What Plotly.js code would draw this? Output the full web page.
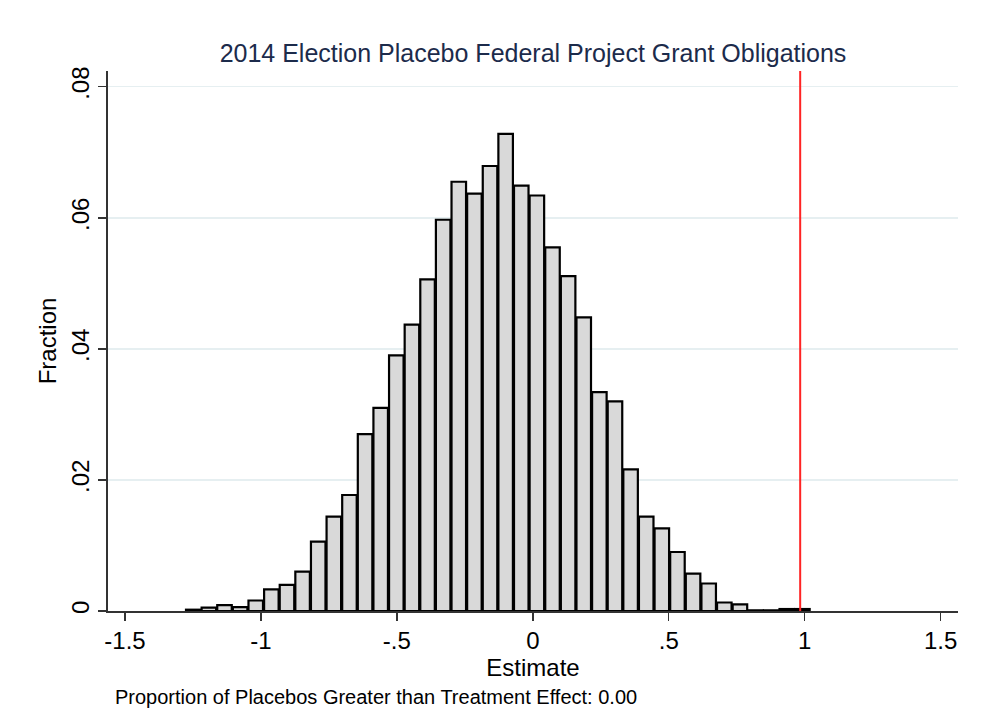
<!DOCTYPE html>
<html>
<head>
<meta charset="utf-8">
<script src="https://cdn.plot.ly/plotly-3.0.1.min.js"></script>
<style>html,body{margin:0;padding:0;background:#fff;}#chart{width:999px;height:725px;}</style>
</head>
<body>
<div id="chart"></div>
<script>
// Histogram bins (Stata-style: 40 equal-width bins)
const binStart = -1.2776;
const binWidth = 0.05745;
const fractions = [0.0002,0.0005,0.0009,0.0006,0.0016,0.0033,0.0040,0.0060,0.0106,0.0144,
                   0.0177,0.0270,0.0310,0.0390,0.0437,0.0506,0.0597,0.0655,0.0637,0.0679,
                   0.0728,0.0649,0.0634,0.0555,0.0511,0.0448,0.0334,0.0320,0.0216,0.0144,
                   0.0126,0.0090,0.0057,0.0042,0.0013,0.0010,0.0001,0.0001,0.0003,0.0003];
const treatmentEffect = 0.9835;
const xTickVals = [-1.5,-1,-0.5,0,0.5,1,1.5];
const xTickText = ['-1.5','-1','-.5','0','.5','1','1.5'];
const yTickVals = [0,0.02,0.04,0.06,0.08];
const yTickText = ['0','.02','.04','.06','.08'];
const titleText = '2014 Election Placebo Federal Project Grant Obligations';
const noteText = 'Proportion of Placebos Greater than Treatment Effect: 0.00';

const centers = fractions.map((_, i) => binStart + (i + 0.5) * binWidth);
const FONT = 'Liberation Sans, Arial, sans-serif';

const trace = {
  type: 'bar',
  x: centers,
  y: fractions,
  width: binWidth * 0.93,
  marker: {color: '#d9d9d9', line: {color: '#000', width: 2.2}},
  hoverinfo: 'skip'
};

const layout = {
  width: 999, height: 725,
  margin: {l: 108, r: 41, t: 71, b: 114, pad: 0},
  paper_bgcolor: '#fff', plot_bgcolor: '#fff',
  showlegend: false,
  font: {family: FONT, color: '#000', size: 24},
  title: {text: titleText, font: {family: FONT, size: 25, color: '#1c2b4b'},
          x: 0.5, xref: 'paper', xanchor: 'center', y: 1 - 53/725, yref: 'container', yanchor: 'middle'},
  xaxis: {
    range: [-1.5625, 1.564], tickmode: 'array', tickvals: xTickVals, ticktext: xTickText,
    ticks: 'outside', ticklen: 8, tickwidth: 1.5, tickcolor: '#333',
    showline: true, linecolor: '#333', linewidth: 1.6, showgrid: false, zeroline: false,
    tickfont: {size: 24, family: FONT, color: '#000'}, automargin: false,
    title: {text: 'Estimate', font: {size: 24, family: FONT, color: '#000'}, standoff: 1}
  },
  yaxis: {
    range: [0, 0.0824], tickmode: 'array', tickvals: yTickVals, ticktext: yTickText,
    tickangle: -90, ticks: 'outside', ticklen: 8, tickwidth: 1.5, tickcolor: '#333',
    showline: true, linecolor: '#333', linewidth: 1.6,
    showgrid: true, gridcolor: '#e6eff1', gridwidth: 1.5, zeroline: false,
    tickfont: {size: 24, family: FONT, color: '#000'}, automargin: false,
    title: {text: 'Fraction', font: {size: 24, family: FONT, color: '#000'}, standoff: 3}
  },
  bargap: 0,
  shapes: [{
    type: 'line', xref: 'x', yref: 'paper', x0: treatmentEffect, x1: treatmentEffect, y0: 0, y1: 1,
    line: {color: '#ff2424', width: 2}, layer: 'above'
  }],
  annotations: [{
    text: noteText, xref: 'paper', yref: 'paper', x: 5/850, y: -(697-611)/540,
    xanchor: 'left', yanchor: 'middle', showarrow: false,
    font: {size: 20, family: FONT, color: '#000'}
  }]
};

Plotly.newPlot('chart', [trace], layout, {staticPlot: true, displayModeBar: false});
</script>
</body>
</html>
